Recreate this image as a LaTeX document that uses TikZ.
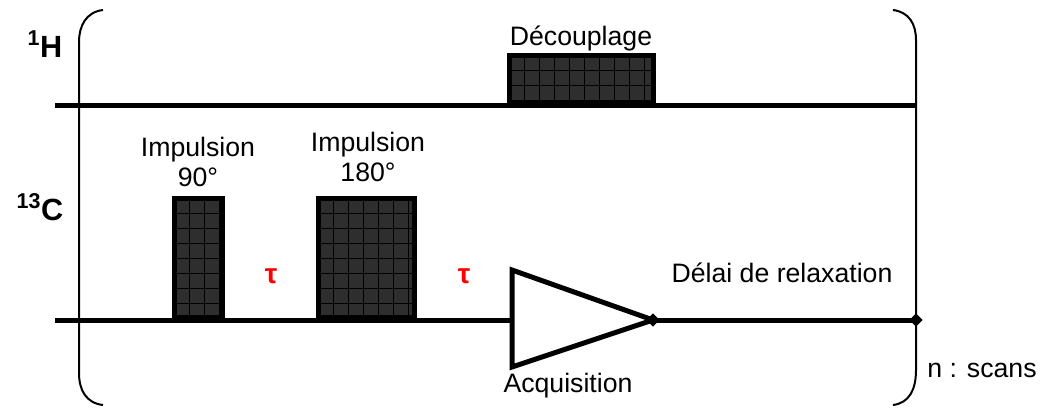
\documentclass[tikz,border=0pt]{standalone}
\usepackage{fontspec}
\setmainfont{Liberation Sans}
\usepackage{xcolor}
\usepackage{tikz}
\usetikzlibrary{shapes.geometric}

\tikzset{
  gridline/.style={black, line width=0.7pt},
  pulsebox/.style={draw, line width=3.75pt, fill=black!82, inner sep=0pt, anchor=south,
    path picture={\foreach \k in {1,...,12} {
      \draw[gridline] ([xshift=\k*11.25pt]path picture bounding box.north west) -- ([xshift=\k*11.25pt]path picture bounding box.south west);
      \draw[gridline] ([yshift=-\k*11.25pt]path picture bounding box.north west) -- ([yshift=-\k*11.25pt]path picture bounding box.north east);}}},
  axis/.style={line width=3.75pt},
  brace/.style={line width=1.5pt},
  lbl/.style={font=\fontsize{20}{23}\selectfont, align=center, inner sep=0pt},
  nucleus/.style={font=\fontsize{23}{26}\selectfont\bfseries, inner sep=0pt},
  delay/.style={font=\fontsize{21}{24}\selectfont\bfseries, text=red, inner sep=0pt},
  tip/.style={diamond, fill=black, inner sep=0pt, minimum size=10pt}
}

\begin{document}
\begin{tikzpicture}[x=0.75pt, y=-0.75pt]
\useasboundingbox (0,0) rectangle (1042,408);
% channel lines
\coordinate (hL) at (55,105); \coordinate (hR) at (916,105);
\coordinate (cL) at (55,320); \coordinate (cR) at (916,320);
\coordinate (acq) at (653,320);
\draw[axis] (hL) -- (hR);
\draw[axis] (cL) -- (cR);
% brackets of the repeated sequence
\draw[brace] (103,10) .. controls (86,12) and (79,26) .. (79,42) -- (79,373) .. controls (79,390) and (86,403) .. (103,405);
\draw[brace] (893,10) .. controls (909,12) and (916,24) .. (916,40) -- (916,370) .. controls (916,390) and (909,403) .. (893,405);
% pulses
\node[pulsebox, minimum width=36pt, minimum height=89.6pt] (p90) at (198.5,320) {};
\node[pulsebox, minimum width=72pt, minimum height=89.6pt] (p180) at (366.5,320) {};
\node[pulsebox, minimum width=108pt, minimum height=35.6pt] (dec) at (581.5,105) {};
% acquisition
\draw[line width=3.75pt, fill=white, line join=miter] (512,270) -- (acq) -- (512,367) -- cycle;
\node[tip] (tipa) at (acq) {};
\node[tip] (tipb) at (cR) {};
% labels
\node[nucleus] (lh) at (45,44) {\textsuperscript{1}H};
\node[nucleus] (lc) at (40,207) {\textsuperscript{13}C};
\node[lbl] (tdec) at (581,38) {Découplage};
\node[lbl] (t90) at (198,162) {Impulsion\\90°};
\node[lbl] (t180) at (368,157) {Impulsion\\180°};
\node[delay] (tau1) at (271,276) {τ};
\node[delay] (tau2) at (464,276) {τ};
\node[lbl] (trel) at (782,273) {Délai de relaxation};
\node[lbl] (tacq) at (568,386) {Acquisition};
\node[lbl] (tscan) at (982,370) {n : scans};
\end{tikzpicture}
\end{document}
